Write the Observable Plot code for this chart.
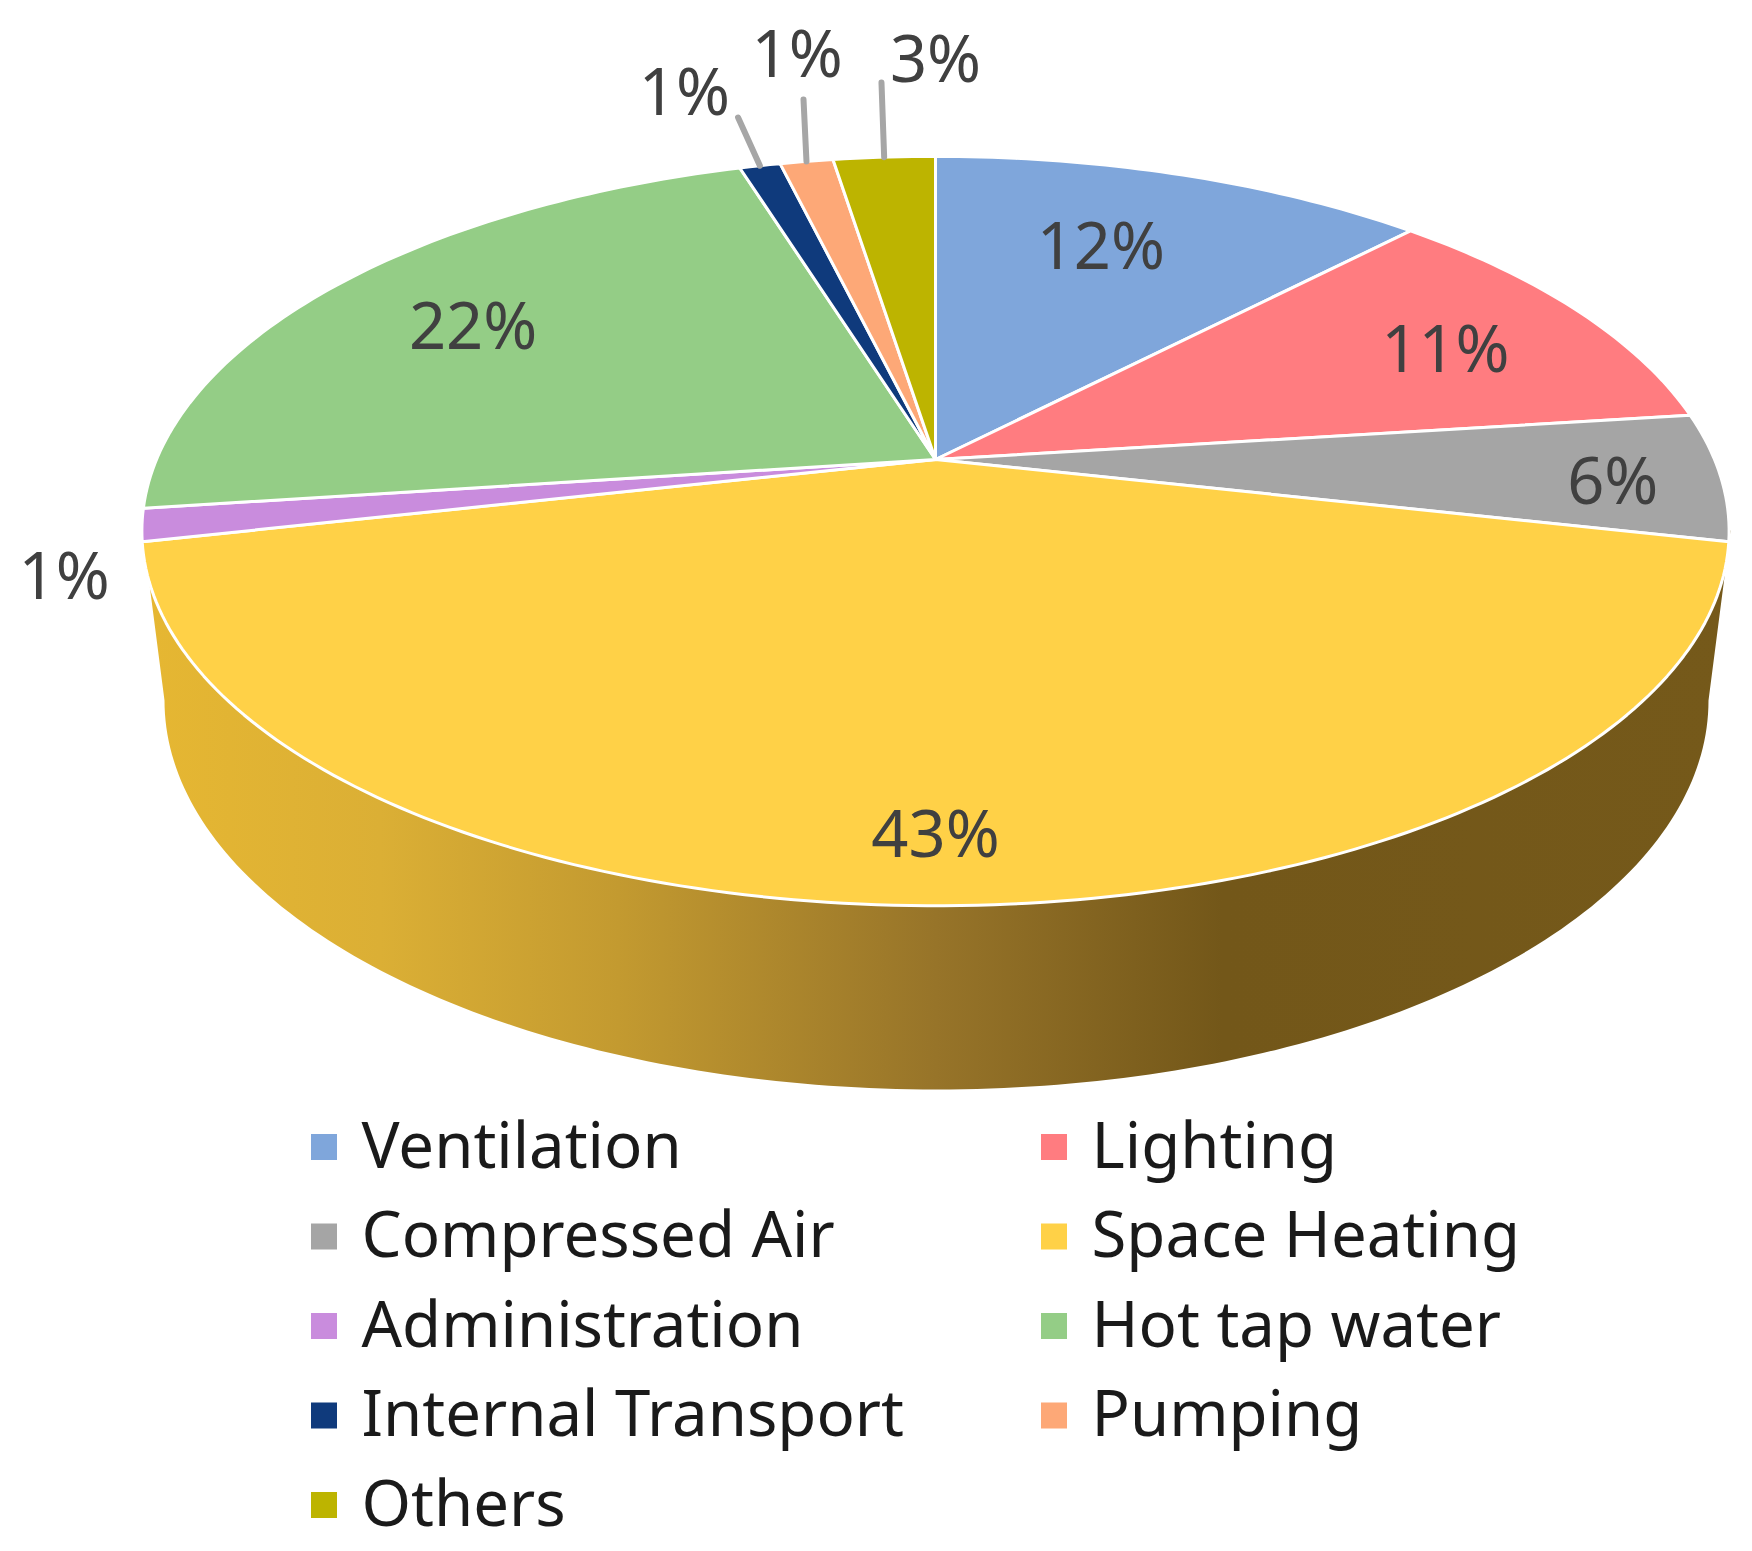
<!DOCTYPE html>
<html>
<head>
<meta charset="utf-8">
<script src="https://cdn.jsdelivr.net/npm/d3@7"></script>
<script src="https://cdn.jsdelivr.net/npm/@observablehq/plot@0.6"></script>
<style>html,body{margin:0;padding:0;background:#fff}svg{display:block}</style>
</head>
<body>
<div id="chart"></div>
<script>
// Data
const categories = ["Ventilation","Lighting","Compressed Air","Space Heating","Administration","Hot tap water","Internal Transport","Pumping","Others"];
const shares = [12.2, 10.8, 5.5, 43, 1.4, 22.3, 1, 1.3, 2.5];
const shareLabels = ["12%","11%","6%","43%","1%","22%","1%","1%","3%"];
const colors = ["#7FA6DB","#FF7C80","#A5A5A5","#FFD147","#C98CDD","#94CD86","#0F3A7C","#FDA877","#BDB400"];

// Label layout: radial reach and small turn (deg) from each slice's mid-angle
const labelReach = [0.70, 0.764, 0.861, 0.87, 1.097, 0.749, 1.316, 1.437, 1.396];
const labelTurn = [-2, 2, 1.7, 0, -6.3, -1, -2.2, 2.3, 4.5];
const leaderReach = [0, 0, 0, 0, 0, 0, 1.197, 1.25, 1.307];
const leaderTurn = [0, 0, 0, 0, 0, 0, 0.5, 1.7, 0.7];

// Perspective of the pie disc, in px about the apex
const persp = {a: 779, b: 361, k: -0.191};
function project(deg, r) {
  const t = deg * Math.PI / 180;
  const u = r * Math.sin(t), v = -r * Math.cos(t);
  const d = 1 + persp.k * v;
  return {x: persp.a * u / d, y: persp.b * v / d};
}
const cum = d3.cumsum(shares);
const startDeg = categories.map((_, i) => (i ? cum[i - 1] : 0) * 3.6);
const endDeg = categories.map((_, i) => cum[i] * 3.6);
const midDeg = categories.map((_, i) => (startDeg[i] + endDeg[i]) / 2);

const slicePoints = categories.flatMap((name, i) => {
  const n = Math.max(4, Math.ceil(endDeg[i] - startDeg[i]));
  const arc = d3.range(n + 1).map(j => project(startDeg[i] + (endDeg[i] - startDeg[i]) * j / n, 1));
  return [{x: 0, y: 0, name}, ...arc.map(p => ({...p, name}))];
});

// Side wall: tangent from the disc's widest points to the lower rim
const wallBase = {cx: 1, cy: 241, rx: 772, ry: 389};
const discMid = {cx: 1, cy: 71, rx: 794};
const wallPoints = [
  {x: discMid.cx + discMid.rx, y: discMid.cy},
  ...d3.range(0, 181).map(d => ({
    x: wallBase.cx + wallBase.rx * Math.cos(d * Math.PI / 180),
    y: wallBase.cy + wallBase.ry * Math.sin(d * Math.PI / 180)
  })),
  {x: discMid.cx - discMid.rx, y: discMid.cy}
];

const labelData = categories.map((name, i) => ({...project(midDeg[i] + labelTurn[i], labelReach[i]), text: shareLabels[i]}));
const leaders = categories.flatMap((name, i) => leaderReach[i] ? [
  {...project(midDeg[i], 1), name},
  {...project(midDeg[i] + leaderTurn[i], leaderReach[i]), name}
] : []);

// Legend layout
const legendColumnX = [-624, 106];
const legendTextGap = 50;
const legendFirstY = 688, legendStepY = 89.5, swatch = 26;
const legendData = categories.map((name, i) => ({
  name,
  x1: legendColumnX[i % 2],
  x2: legendColumnX[i % 2] + swatch,
  y1: legendFirstY + legendStepY * Math.floor(i / 2) - swatch / 2,
  y2: legendFirstY + legendStepY * Math.floor(i / 2) + swatch / 2,
  tx: legendColumnX[i % 2] + legendTextGap,
  ty: legendFirstY + legendStepY * Math.floor(i / 2)
}));

const gradient = () => {
  const svg = d3.create("svg:g");
  const g = svg.append("defs").append("linearGradient").attr("id", "wall")
    .attr("x1", 0).attr("x2", 1).attr("y1", 0).attr("y2", 0);
  [[0,"#E6B732"],[0.15,"#DBAF35"],[0.3,"#C39A30"],[0.5,"#977429"],[0.68,"#735719"],[1,"#75591A"]]
    .forEach(([o,c]) => g.append("stop").attr("offset", o).attr("stop-color", c));
  return svg.node();
};

const chart = Plot.plot({
  width: 1752, height: 1551,
  marginTop: 0, marginRight: 0, marginBottom: 0, marginLeft: 0,
  x: {domain: [-935, 817], range: [0, 1752], axis: null},
  y: {domain: [-459, 1092], range: [0, 1551], axis: null},
  color: {domain: categories, range: colors},
  style: {background: "#fff", fontFamily: "'Noto Sans'"},
  marks: [
    gradient,
    Plot.line(wallPoints, {x: "x", y: "y", fill: "url(#wall)", stroke: "none", curve: "linear-closed"}),
    Plot.line(slicePoints, {x: "x", y: "y", z: "name", fill: "name", stroke: "#fff", strokeWidth: 3, strokeLinejoin: "round", curve: "linear-closed"}),
    Plot.line(leaders, {x: "x", y: "y", z: "name", stroke: "#A6A6A6", strokeWidth: 6, curve: "linear"}),
    Plot.text(labelData, {x: "x", y: "y", text: "text", fontSize: 65, fill: "#404040"}),
    Plot.rect(legendData, {x1: "x1", x2: "x2", y1: "y1", y2: "y2", fill: "name"}),
    Plot.text(legendData, {x: "tx", y: "ty", text: "name", fontSize: 63.5, textAnchor: "start", fill: "#1a1a1a"})
  ]
});
document.getElementById("chart").append(chart);
</script>
</body>
</html>
